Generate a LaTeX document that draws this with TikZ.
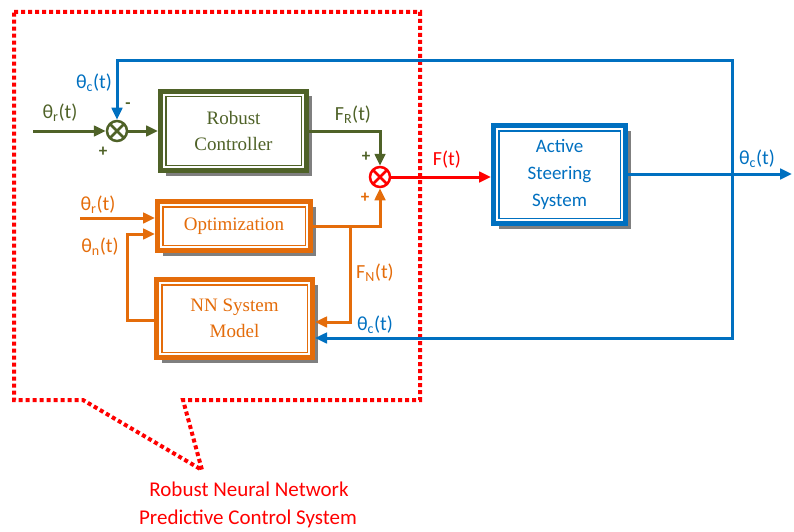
\documentclass[tikz,border=0pt]{standalone}
\usepackage{fontspec}
\setmainfont{Liberation Serif}
\newfontfamily\calfont{Carlito}
\usetikzlibrary{arrows.meta,shadows}
\definecolor{cgreen}{HTML}{4F6228}
\definecolor{corange}{HTML}{E46C0A}
\definecolor{cblue}{HTML}{0070C0}
\definecolor{cred}{HTML}{FF0000}
\definecolor{cshadow}{HTML}{7F7F7F}
\begin{document}
\begin{tikzpicture}[x=1pt,y=-1pt,
  >={Triangle[length=12pt,width=10.5pt]},
  conn/.style={draw=#1, line width=3pt},
  lbl/.style={font=\calfont\fontsize{20}{23}\selectfont, inner sep=0pt, text=#1},
  sgn/.style={font=\calfont\bfseries\fontsize{17}{20}\selectfont, inner sep=0pt, text=#1},
  dbox/.style={draw=#1, line width=5pt, fill=white, text=#1, inner sep=0pt,
    font=\fontsize{19}{26}\selectfont, align=center,
    drop shadow={shadow xshift=5pt, shadow yshift=-5pt, fill=cshadow, opacity=1},
    path picture={\draw[#1, line width=1.5pt]
      ([shift={(5.25pt,5.25pt)}]path picture bounding box.south west) rectangle
      ([shift={(-5.25pt,-5.25pt)}]path picture bounding box.north east);}},
  sumj/.style={circle, draw=#1, line width=2.5pt, minimum size=20pt, inner sep=0pt, fill=white,
    path picture={\draw[#1, line width=2.5pt]
      (path picture bounding box.north west) -- (path picture bounding box.south east)
      (path picture bounding box.north east) -- (path picture bounding box.south west);}}
]
\useasboundingbox (0,0) rectangle (794,532);

% callout
\draw[cred, line width=4pt, dash pattern=on 4pt off 3pt]
  (14,12) -- (420,12) -- (420,400) -- (183,400) -- (202,470) -- (83,400) -- (14,400) -- cycle;
\node[lbl=cred, font=\calfont\fontsize{21}{25}\selectfont] (cap1) at (249,489) {Robust Neural Network};
\node[lbl=cred, font=\calfont\fontsize{21}{25}\selectfont] (cap2) at (248,519) {Predictive Control System};

% blocks
\node[dbox=cgreen, minimum width=146pt, minimum height=79pt] (rc) at (233.5,131) {Robust\\Controller};
\node[dbox=corange, minimum width=153pt, minimum height=49pt] (opt) at (234,226) {Optimization};
\node[dbox=corange, minimum width=156pt, minimum height=78pt] (nn) at (234.5,318.5) {NN System\\Model};
\node[dbox=cblue, minimum width=132pt, minimum height=98pt, font=\calfont\fontsize{19}{27}\selectfont] (as) at (559.5,174.5) {Active\\Steering\\System};

% junctions
\node[sumj=cgreen] (s1) at (117,131) {};
\node[sumj=cred] (s2) at (380,177) {};

% coordinates
\coordinate (in1) at (33,131);
\coordinate (in2) at (80,218);
\coordinate (out) at (792,174);
\coordinate (fbB) at (732,338);
\coordinate (fbT) at (732,61);
\coordinate (fbL) at (117,61);
\coordinate (frc) at (380,131);
\coordinate (fo) at (380,226);
\coordinate (br) at (350,226);
\coordinate (brd) at (350,322);
\coordinate (lpA) at (127,320);
\coordinate (lpB) at (127,234);

% green
\draw[conn=cgreen, ->] (in1) -- (s1.west);
\draw[conn=cgreen, ->] (s1.east) -- (rc.west);
\draw[conn=cgreen, ->] (rc.east |- frc) -- (frc) -- (s2.north);

% orange
\draw[conn=corange, ->] (opt.east |- fo) -- (fo) -- (s2.south);
\draw[conn=corange, ->] (br) -- (brd) -- (nn.east |- brd);
\draw[conn=corange, ->] (in2) -- (opt.west |- in2);
\draw[conn=corange, ->] (nn.west |- lpA) -- (lpA) -- (lpB) -- (opt.west |- lpB);

% red
\draw[conn=cred, ->] (s2.east) -- (as.west |- s2);

% blue
\draw[conn=cblue, ->] (as.east |- out) -- (out);
\draw[conn=cblue, <->] (nn.east |- fbB) -- (fbB) -- (fbT) -- (fbL) -- (s1.north);

% labels
\node[lbl=cblue] (l1) at (94,83) {θ\textsubscript{c}(t)};
\node[sgn=cgreen] (m1) at (128,106) {-};
\node[lbl=cgreen] (l2) at (60,113) {θ\textsubscript{r}(t)};
\node[sgn=cgreen] (p1) at (103,152) {+};
\node[lbl=cgreen] (l3) at (353,115) {F\textsubscript{R}(t)};
\node[sgn=cgreen] (p2) at (366,157) {+};
\node[sgn=corange] (p3) at (365,198) {+};
\node[lbl=cred] (l4) at (447,160) {F(t)};
\node[lbl=cblue] (l5) at (757,159) {θ\textsubscript{c}(t)};
\node[lbl=corange] (l6) at (98,205) {θ\textsubscript{r}(t)};
\node[lbl=corange] (l7) at (100,247) {θ\textsubscript{n}(t)};
\node[lbl=corange] (l8) at (375,273) {F\textsubscript{N}(t)};
\node[lbl=cblue] (l9) at (375,325) {θ\textsubscript{c}(t)};
\end{tikzpicture}
\end{document}
